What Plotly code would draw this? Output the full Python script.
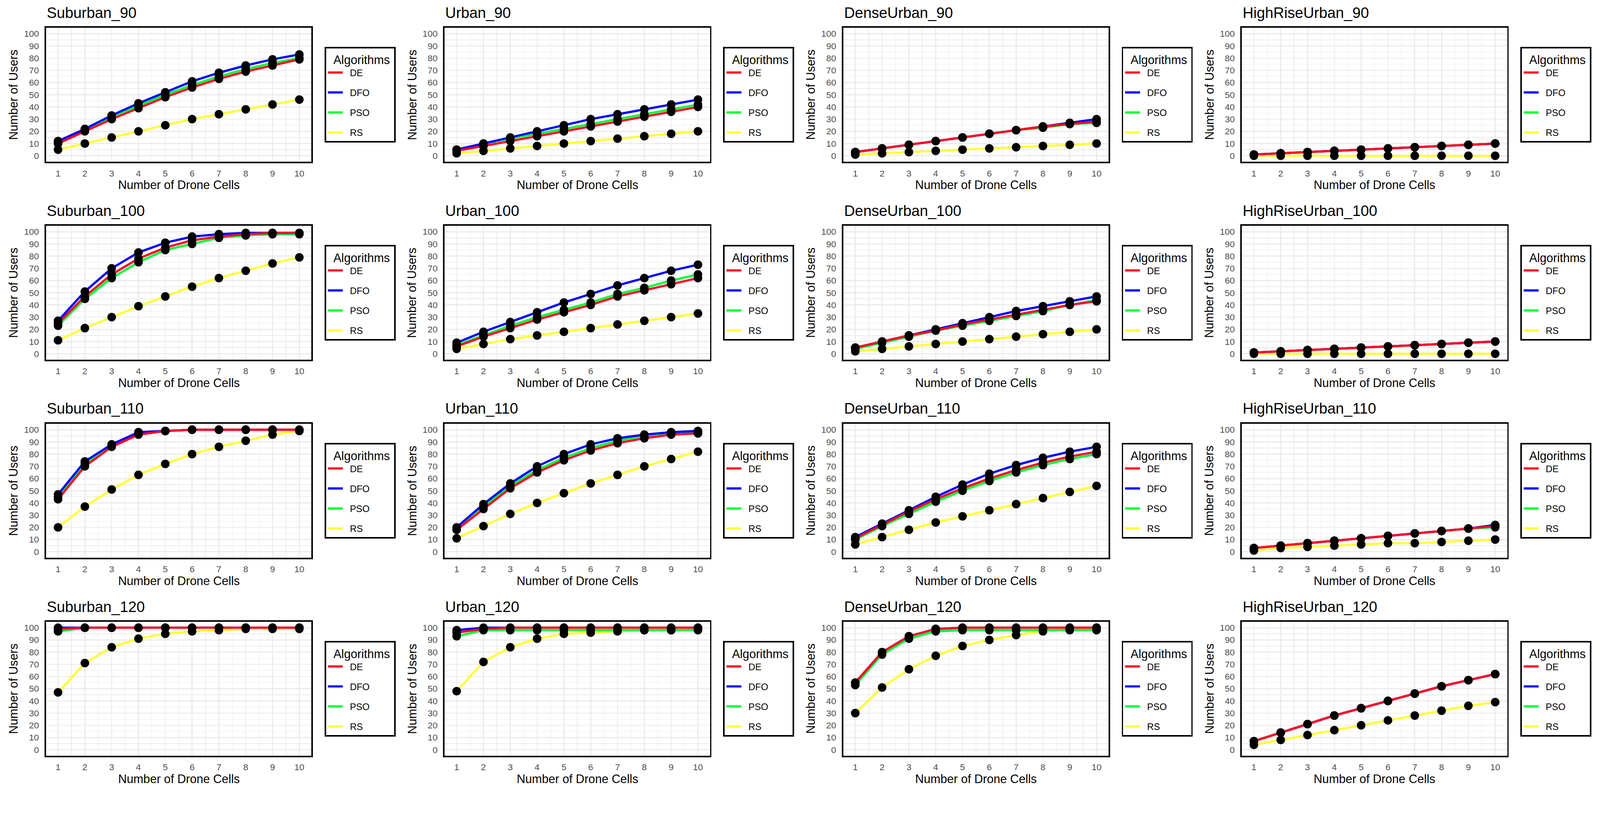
import plotly.graph_objects as go

W, H = 4280, 2120

# ---------------- data ----------------
drone_cells = [1, 2, 3, 4, 5, 6, 7, 8, 9, 10]
algorithms = ["DE", "DFO", "PSO", "RS"]
y_ticks = [0, 10, 20, 30, 40, 50, 60, 70, 80, 90, 100]

panel_titles = [
    "Suburban_90", "Urban_90", "DenseUrban_90", "HighRiseUrban_90",
    "Suburban_100", "Urban_100", "DenseUrban_100", "HighRiseUrban_100",
    "Suburban_110", "Urban_110", "DenseUrban_110", "HighRiseUrban_110",
    "Suburban_120", "Urban_120", "DenseUrban_120", "HighRiseUrban_120",
]

suburban_90_de = [10, 20, 30, 39, 48, 56, 63, 69, 74, 79]
suburban_90_dfo = [12, 22, 33, 43, 52, 61, 68, 74, 79, 83]
suburban_90_pso = [11, 21, 32, 41, 50, 58, 65, 71, 76, 80]
suburban_90_rs = [5, 10, 15, 20, 25, 30, 34, 38, 42, 46]

urban_90_de = [4, 8, 12, 16, 20, 24, 28, 32, 36, 40]
urban_90_dfo = [5, 10, 15, 20, 25, 30, 34, 38, 42, 46]
urban_90_pso = [5, 10, 14, 18, 22, 26, 30, 34, 38, 42]
urban_90_rs = [2, 4, 6, 8, 10, 12, 14, 16, 18, 20]

denseurban_90_de = [3, 6, 9, 12, 15, 18, 21, 24, 26, 28]
denseurban_90_dfo = [3, 6, 9, 12, 15, 18, 21, 24, 27, 30]
denseurban_90_pso = [3, 6, 9, 12, 15, 18, 21, 23, 26, 27]
denseurban_90_rs = [1, 2, 3, 4, 5, 6, 7, 8, 9, 10]

highrise_90_de = [1, 2, 3, 4, 5, 6, 7, 8, 9, 10]
highrise_90_dfo = [1, 2, 3, 4, 5, 6, 7, 8, 9, 10]
highrise_90_pso = [1, 2, 3, 4, 5, 6, 7, 8, 9, 10]
highrise_90_rs = [0, 0, 0, 0, 0, 0, 0, 0, 0, 0]

suburban_100_de = [25, 47, 65, 78, 87, 93, 96, 98, 99, 99]
suburban_100_dfo = [27, 51, 70, 83, 91, 96, 98, 99, 99, 99]
suburban_100_pso = [23, 45, 62, 75, 85, 90, 95, 97, 98, 98]
suburban_100_rs = [11, 21, 30, 39, 47, 55, 62, 68, 74, 79]

urban_100_de = [6, 14, 21, 28, 34, 40, 47, 52, 57, 62]
urban_100_dfo = [9, 18, 26, 34, 42, 49, 56, 62, 68, 73]
urban_100_pso = [7, 15, 23, 30, 36, 42, 49, 54, 60, 65]
urban_100_rs = [4, 8, 12, 15, 18, 21, 24, 27, 30, 33]

denseurban_100_de = [5, 10, 15, 19, 24, 28, 32, 36, 40, 43]
denseurban_100_dfo = [5, 10, 15, 20, 25, 30, 35, 39, 43, 47]
denseurban_100_pso = [4, 9, 14, 19, 23, 27, 31, 35, 40, 44]
denseurban_100_rs = [2, 4, 6, 8, 10, 12, 14, 16, 18, 20]

highrise_100_de = [1, 2, 3, 4, 5, 6, 7, 8, 9, 10]
highrise_100_dfo = [1, 2, 3, 4, 5, 6, 7, 8, 9, 10]
highrise_100_pso = [1, 2, 3, 4, 5, 6, 7, 8, 9, 10]
highrise_100_rs = [0, 0, 0, 0, 0, 0, 0, 0, 0, 0]

suburban_110_de = [43, 70, 86, 96, 99, 100, 100, 100, 100, 100]
suburban_110_dfo = [47, 74, 88, 98, 99, 100, 100, 100, 100, 100]
suburban_110_pso = [45, 72, 87, 97, 99, 100, 100, 100, 100, 100]
suburban_110_rs = [20, 37, 51, 63, 72, 80, 86, 91, 96, 99]

urban_110_de = [18, 35, 52, 65, 75, 83, 89, 93, 96, 97]
urban_110_dfo = [20, 39, 56, 70, 80, 88, 93, 96, 98, 99]
urban_110_pso = [19, 37, 54, 67, 77, 85, 91, 95, 97, 98]
urban_110_rs = [11, 21, 31, 40, 48, 56, 63, 70, 76, 82]

denseurban_110_de = [11, 22, 33, 43, 52, 60, 67, 73, 78, 82]
denseurban_110_dfo = [12, 23, 34, 45, 55, 64, 71, 77, 82, 86]
denseurban_110_pso = [10, 21, 31, 41, 50, 58, 65, 71, 76, 80]
denseurban_110_rs = [6, 12, 18, 24, 29, 34, 39, 44, 49, 54]

highrise_110_de = [3, 5, 7, 9, 11, 13, 15, 17, 19, 21]
highrise_110_dfo = [3, 5, 7, 9, 11, 13, 15, 17, 19, 22]
highrise_110_pso = [3, 5, 7, 9, 11, 13, 15, 17, 19, 20]
highrise_110_rs = [1, 3, 4, 5, 6, 7, 7, 8, 9, 10]

suburban_120_de = [99, 100, 100, 100, 100, 100, 100, 100, 100, 100]
suburban_120_dfo = [100, 100, 100, 100, 100, 100, 100, 100, 100, 100]
suburban_120_pso = [97, 100, 100, 100, 100, 100, 100, 100, 100, 100]
suburban_120_rs = [47, 71, 84, 91, 95, 97, 98, 99, 99, 99]

urban_120_de = [96, 99, 100, 100, 100, 100, 100, 100, 100, 100]
urban_120_dfo = [98, 100, 100, 100, 100, 100, 100, 100, 100, 100]
urban_120_pso = [93, 98, 98, 98, 98, 98, 98, 98, 98, 98]
urban_120_rs = [48, 72, 84, 91, 95, 96, 97, 98, 98, 99]

denseurban_120_de = [55, 80, 93, 99, 100, 100, 100, 100, 100, 100]
denseurban_120_dfo = [55, 80, 93, 99, 100, 100, 100, 100, 100, 100]
denseurban_120_pso = [53, 78, 91, 97, 98, 98, 98, 98, 98, 98]
denseurban_120_rs = [30, 51, 66, 77, 85, 90, 94, 97, 99, 100]

highrise_120_de = [7, 14, 21, 28, 34, 40, 46, 52, 57, 62]
highrise_120_dfo = [7, 14, 21, 28, 34, 40, 46, 52, 57, 62]
highrise_120_pso = [7, 14, 21, 28, 34, 40, 46, 52, 57, 62]
highrise_120_rs = [4, 8, 12, 16, 20, 24, 28, 32, 36, 39]

panel_series = [
    [suburban_90_de, suburban_90_dfo, suburban_90_pso, suburban_90_rs],
    [urban_90_de, urban_90_dfo, urban_90_pso, urban_90_rs],
    [denseurban_90_de, denseurban_90_dfo, denseurban_90_pso, denseurban_90_rs],
    [highrise_90_de, highrise_90_dfo, highrise_90_pso, highrise_90_rs],
    [suburban_100_de, suburban_100_dfo, suburban_100_pso, suburban_100_rs],
    [urban_100_de, urban_100_dfo, urban_100_pso, urban_100_rs],
    [denseurban_100_de, denseurban_100_dfo, denseurban_100_pso, denseurban_100_rs],
    [highrise_100_de, highrise_100_dfo, highrise_100_pso, highrise_100_rs],
    [suburban_110_de, suburban_110_dfo, suburban_110_pso, suburban_110_rs],
    [urban_110_de, urban_110_dfo, urban_110_pso, urban_110_rs],
    [denseurban_110_de, denseurban_110_dfo, denseurban_110_pso, denseurban_110_rs],
    [highrise_110_de, highrise_110_dfo, highrise_110_pso, highrise_110_rs],
    [suburban_120_de, suburban_120_dfo, suburban_120_pso, suburban_120_rs],
    [urban_120_de, urban_120_dfo, urban_120_pso, urban_120_rs],
    [denseurban_120_de, denseurban_120_dfo, denseurban_120_pso, denseurban_120_rs],
    [highrise_120_de, highrise_120_dfo, highrise_120_pso, highrise_120_rs],
]

# ---------------- style ----------------
FONT = "Liberation Sans, Arial, Helvetica, sans-serif"
algo_colors = {"DE": "#FF0A28", "DFO": "#0000FF", "PSO": "#00FF3C", "RS": "#FFFF3C"}
GRID = "#EBEBEB"
TICK_COLOR = "#4D4D4D"
NB = "\u00a0\u00a0"
LEGEND_TITLE = "\u00a0\u00a0Algorithms\u00a0"

PLOT_W, PLOT_H = 710, 359
COL_X0, COL_PITCH = 123, 1066.3
ROW_Y0, ROW_PITCH = 74, 529.7

fig = go.Figure()
layout = dict(
    width=W, height=H,
    margin=dict(l=0, r=0, t=0, b=0),
    paper_bgcolor="white", plot_bgcolor="white",
    font=dict(family=FONT, color="black"),
    showlegend=True,
    annotations=[],
)

draw_order = [3, 2, 1, 0]  # RS, PSO, DFO, DE (DE drawn on top)

for n in range(16):
    r, c = divmod(n, 4)
    x0 = COL_X0 + c * COL_PITCH
    x1 = x0 + PLOT_W
    yt = ROW_Y0 + r * ROW_PITCH
    yb = yt + PLOT_H
    idx = n + 1
    xa = "x" if idx == 1 else f"x{idx}"
    ya = "y" if idx == 1 else f"y{idx}"
    leg = "legend" if idx == 1 else f"legend{idx}"

    series = panel_series[n]
    for k in draw_order:
        name = algorithms[k]
        fig.add_trace(go.Scatter(
            x=drone_cells, y=series[k], mode="lines", name=NB + name,
            line=dict(color=algo_colors[name], width=6),
            xaxis=xa, yaxis=ya, legend=leg, legendgroup=f"{name}_{idx}",
            legendrank=k + 1, hoverinfo="skip",
        ))
    mx, my = [], []
    for k in draw_order:
        mx += drone_cells
        my += series[k]
    fig.add_trace(go.Scatter(
        x=mx, y=my, mode="markers", showlegend=False,
        marker=dict(color="black", size=23, line=dict(width=0)),
        xaxis=xa, yaxis=ya, hoverinfo="skip",
    ))

    axis_common = dict(
        showline=True, mirror=True, linecolor="black", linewidth=4,
        showgrid=True, gridcolor=GRID, gridwidth=2.8, zeroline=False,
        ticks="", tickfont=dict(family=FONT, size=24, color=TICK_COLOR),
        fixedrange=True,
    )
    layout[f"xaxis{'' if idx == 1 else idx}"] = dict(
        axis_common,
        domain=[x0 / W, x1 / W], anchor=ya,
        range=[0.55, 10.45], tickmode="array", tickvals=drone_cells,
        ticktext=[str(v) for v in drone_cells],
        minor=dict(dtick=0.5, tick0=0.5, showgrid=True, gridcolor=GRID, gridwidth=1.4),
        ticklabelstandoff=6,
    )
    layout[f"yaxis{'' if idx == 1 else idx}"] = dict(
        axis_common,
        domain=[1 - yb / H, 1 - yt / H], anchor=xa,
        range=[-5, 105], tickmode="array", tickvals=y_ticks,
        ticktext=[str(v) for v in y_ticks],
        minor=dict(dtick=5, tick0=0, showgrid=True, gridcolor=GRID, gridwidth=1.4),
        ticklabelstandoff=10,
    )
    layout[leg] = dict(
        x=(x1 + 35) / W, y=1 - ((yt + yb) / 2) / H,
        xref="paper", yref="paper",
        xanchor="left", yanchor="middle",
        bgcolor="white", bordercolor="black", borderwidth=4,
        title=dict(text=LEGEND_TITLE, font=dict(family=FONT, size=32, color="black")),
        font=dict(family=FONT, size=25, color="black"),
        traceorder="grouped", tracegroupgap=18, itemwidth=40,
    )
    # panel title
    layout["annotations"].append(dict(
        text=panel_titles[n], x=x0 / W, y=1 - (yt - 40) / H,
        xref="paper", yref="paper", xanchor="left", yanchor="middle",
        showarrow=False, font=dict(family=FONT, size=40, color="black"),
    ))
    # x axis title
    layout["annotations"].append(dict(
        text="Number of Drone Cells", x=((x0 + x1) / 2) / W, y=1 - (yb + 62) / H,
        xref="paper", yref="paper", xanchor="center", yanchor="middle",
        showarrow=False, font=dict(family=FONT, size=32, color="black"),
    ))
    # y axis title
    layout["annotations"].append(dict(
        text="Number of Users", x=(x0 - 87) / W, y=1 - ((yt + yb) / 2) / H,
        xref="paper", yref="paper", xanchor="center", yanchor="middle",
        textangle=-90, showarrow=False,
        font=dict(family=FONT, size=32, color="black"),
    ))

fig.update_layout(**layout)

fit_script = """
(function(){
  var gd = document.getElementById('{plot_id}');
  document.documentElement.style.margin='0';
  document.documentElement.style.overflow='hidden';
  document.body.style.margin='0';
  document.body.style.padding='0';
  document.body.style.overflow='hidden';
  function fit(){
    var s = Math.min(window.innerWidth / %d, window.innerHeight / %d);
    gd.style.transformOrigin = '0 0';
    gd.style.transform = 'scale(' + s + ')';
  }
  fit();
  window.addEventListener('resize', fit);
})();
""" % (W, H)

fig.write_html("out.html", post_script=fit_script,
               config={"displayModeBar": False, "staticPlot": True})
